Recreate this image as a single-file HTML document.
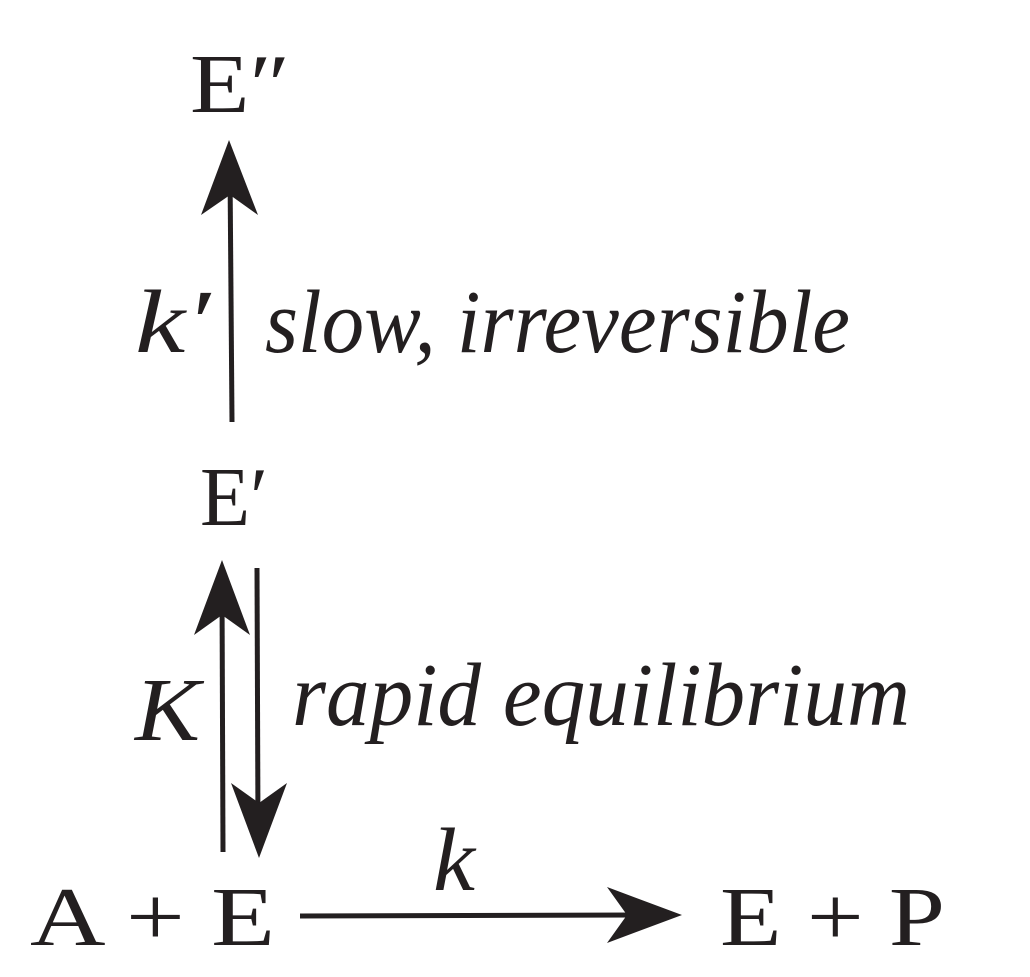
<!DOCTYPE html>
<html><head><meta charset="utf-8"><style>
html,body{margin:0;padding:0;background:#fff;}
svg{display:block;}
text{font-family:"Liberation Serif",serif;fill:#231f20;}
.it{font-style:italic;}
</style></head><body>
<svg width="1030" height="977" viewBox="0 0 1030 977">
<defs>
<marker id="ah" viewBox="0 0 20 20" refX="18" refY="10" markerWidth="20" markerHeight="20" markerUnits="userSpaceOnUse" orient="auto">
</marker>
</defs>
<g>
<text x="190" y="112" font-size="84" textLength="100" lengthAdjust="spacingAndGlyphs">E″</text>
</g>
<g>
<line x1="232" y1="422" x2="230" y2="170" stroke="#231f20" stroke-width="5"/>
<path d="M229 140 L258 215 L230 195 L201 215 Z" fill="#231f20"/>
</g>
<text class="it" x="135" y="352" font-size="90" textLength="75" lengthAdjust="spacingAndGlyphs">k′</text>
<text class="it" x="265" y="352" font-size="90" textLength="585" lengthAdjust="spacingAndGlyphs">slow, irreversible</text>
<text x="200" y="525" font-size="84" textLength="68" lengthAdjust="spacingAndGlyphs">E′</text>
<g>
<line x1="223" y1="852" x2="222" y2="590" stroke="#231f20" stroke-width="5"/>
<path d="M222 560 L250 635 L222 615 L194 635 Z" fill="#231f20"/>
<line x1="257" y1="568" x2="258" y2="830" stroke="#231f20" stroke-width="5"/>
<path d="M259 858 L231 783 L259 803 L287 783 Z" fill="#231f20"/>
</g>
<text class="it" x="135" y="740" font-size="90" textLength="65" lengthAdjust="spacingAndGlyphs">K</text>
<text class="it" x="292" y="725" font-size="90" textLength="618" lengthAdjust="spacingAndGlyphs">rapid equilibrium</text>
<text x="30" y="945" font-size="84" textLength="245" lengthAdjust="spacingAndGlyphs">A + E</text>
<text class="it" x="433" y="890" font-size="90" textLength="42" lengthAdjust="spacingAndGlyphs">k</text>
<g>
<line x1="300" y1="916" x2="655" y2="915" stroke="#231f20" stroke-width="5"/>
<path d="M682 915 L607 943 L627 915 L607 887 Z" fill="#231f20"/>
</g>
<text x="720" y="945" font-size="84" textLength="225" lengthAdjust="spacingAndGlyphs">E + P</text>
</svg>
</body></html>
